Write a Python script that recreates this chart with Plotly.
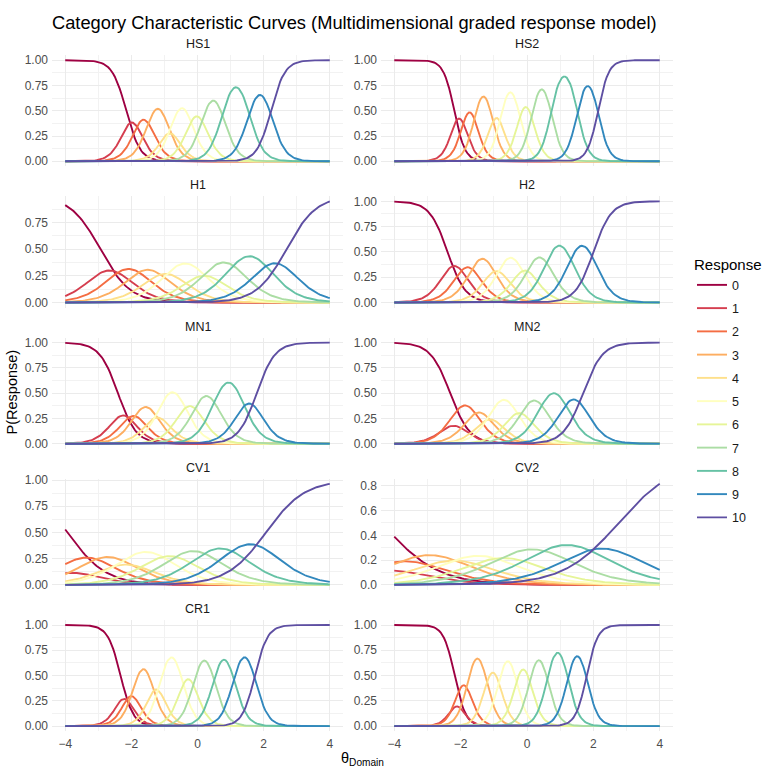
import numpy as np
import plotly.graph_objects as go

# ---------------- data ----------------
items = ["HS1", "HS2", "H1", "H2", "MN1", "MN2", "CV1", "CV2", "CR1", "CR2"]
responses = [str(k) for k in range(11)]
colors = ["#9E0142", "#D53E4F", "#F46D43", "#FDAE61", "#FEE08B", "#FFFFBF",
          "#E6F598", "#ABDDA4", "#66C2A5", "#3288BD", "#5E4FA2"]

# theta where response 0 / response 10 curves cross 0.5
cross_low = [-2.17, -2.20, -2.97, -2.40, -2.42, -2.33, -3.92, -4.37, -2.33, -2.19]
cross_high = [2.24, 2.16, 2.65, 2.01, 1.77, 1.69, 2.00, 2.78, 1.75, 1.81]

# location (theta) of peaks of responses 1..9
peak_theta = {
    "HS1": [-1.98, -1.61, -1.19, -0.85, -0.47, -0.02, 0.46, 1.17, 1.87],
    "HS2": [-2.05, -1.73, -1.29, -0.92, -0.50, -0.05, 0.45, 1.13, 1.81],
    "H1":  [-2.64, -2.08, -1.48, -0.98, -0.37, 0.18, 0.80, 1.57, 2.39],
    "H2":  [-2.18, -1.79, -1.35, -0.91, -0.48, -0.08, 0.37, 0.99, 1.65],
    "MN1": [-2.23, -1.95, -1.55, -1.23, -0.74, -0.24, 0.28, 0.95, 1.57],
    "MN2": [-2.21, -1.86, -1.44, -1.11, -0.68, -0.25, 0.22, 0.80, 1.41],
    "CV1": [-3.85, -3.35, -2.70, -2.10, -1.58, -0.93, -0.09, 0.70, 1.66],
    "CV2": [-4.20, -3.70, -2.87, -2.20, -1.46, -0.80, 0.25, 1.21, 2.21],
    "CR1": [-2.21, -2.01, -1.63, -1.25, -0.77, -0.29, 0.20, 0.80, 1.41],
    "CR2": [-2.11, -1.89, -1.49, -1.04, -0.58, -0.12, 0.35, 0.93, 1.51],
}
# peak heights of responses 1..9
peak_height = {
    "HS1": [0.37, 0.41, 0.53, 0.29, 0.53, 0.45, 0.60, 0.73, 0.65],
    "HS2": [0.41, 0.47, 0.64, 0.44, 0.69, 0.54, 0.71, 0.84, 0.74],
    "H1":  [0.29, 0.31, 0.31, 0.275, 0.37, 0.25, 0.37, 0.43, 0.375],
    "H2":  [0.36, 0.35, 0.43, 0.31, 0.45, 0.32, 0.44, 0.56, 0.56],
    "MN1": [0.275, 0.27, 0.36, 0.255, 0.505, 0.37, 0.47, 0.61, 0.41],
    "MN2": [0.165, 0.37, 0.305, 0.24, 0.44, 0.31, 0.43, 0.50, 0.435],
    "CV1": [0.11, 0.245, 0.255, 0.20, 0.33, 0.27, 0.31, 0.345, 0.40],
    "CV2": [0.115, 0.18, 0.235, 0.20, 0.24, 0.21, 0.28, 0.33, 0.295],
    "CR1": [0.27, 0.295, 0.56, 0.36, 0.685, 0.475, 0.65, 0.655, 0.675],
    "CR2": [0.185, 0.41, 0.68, 0.54, 0.645, 0.56, 0.645, 0.72, 0.685],
}
y_ticks = {
    "HS1": [0, 0.25, 0.5, 0.75, 1.0], "HS2": [0, 0.25, 0.5, 0.75, 1.0],
    "H1": [0, 0.25, 0.5, 0.75], "H2": [0, 0.25, 0.5, 0.75, 1.0],
    "MN1": [0, 0.25, 0.5, 0.75, 1.0], "MN2": [0, 0.25, 0.5, 0.75, 1.0],
    "CV1": [0, 0.25, 0.5, 0.75, 1.0], "CV2": [0, 0.2, 0.4, 0.6, 0.8],
    "CR1": [0, 0.25, 0.5, 0.75, 1.0], "CR2": [0, 0.25, 0.5, 0.75, 1.0],
}
x_ticks = [-4, -2, 0, 2, 4]

# ---------------- graded response model fitted to the read values ----------------
theta = np.linspace(-4, 4, 161)


def grm_params(b_low, b_high, m, h):
    """Least-squares slope/thresholds matching read crossings, peak places and heights."""
    m = np.asarray(m, float)
    at = np.arctanh(np.asarray(h, float))
    rows, rhs = [], []
    for k in range(9):
        r = np.zeros(10); r[k] = 0.5; r[k + 1] = 0.5
        rows.append(r); rhs.append(m[k])
    for k in range(9):
        r = np.zeros(10); r[k] = -1; r[k + 1] = 1
        rows.append(r); rhs.append(None)
    r = np.zeros(10); r[0] = 1; rows.append(r); rhs.append(b_low)
    r = np.zeros(10); r[9] = 1; rows.append(r); rhs.append(b_high)
    A = np.array(rows)
    best = None
    for a in np.arange(0.5, 9.0, 0.01):
        g = 4 * at / a
        y = np.array([v if v is not None else g[i - 9] for i, v in enumerate(rhs)], float)
        b, *_ = np.linalg.lstsq(A, y, rcond=None)
        res = float(np.sum((A @ b - y) ** 2))
        if best is None or res < best[0]:
            best = (res, a, b)
    return best[1], best[2]


def sig(z):
    return 1 / (1 + np.exp(-z))


def curves(a, b):
    star = [np.ones_like(theta)] + [sig(a * (theta - bk)) for bk in b] + [np.zeros_like(theta)]
    return [star[k] - star[k + 1] for k in range(11)]


# ---------------- layout geometry (pixels) ----------------
W, H = 767, 772
col_x = [(52, 343), (381, 673)]
row_top0, row_step, row_h = 50.6, 142.5, 112.2

fig = go.Figure()
annotations = []
layout_axes = {}
font_fam = "Liberation Sans, Arial, sans-serif"

for p, item in enumerate(items):
    r, c = divmod(p, 2)
    a, b = grm_params(cross_low[p], cross_high[p], peak_theta[item], peak_height[item])
    P = curves(a, b)
    ymax = max(float(np.max(pk)) for pk in P)
    ymin = min(float(np.min(pk)) for pk in P)
    span = ymax - ymin
    yr = [ymin - 0.05 * span, ymax + 0.05 * span]

    xs = "x" if p == 0 else f"x{p + 1}"
    ys = "y" if p == 0 else f"y{p + 1}"
    for k in range(11):
        fig.add_trace(go.Scatter(
            x=theta, y=P[k], mode="lines", xaxis=xs, yaxis=ys,
            line=dict(color=colors[k], width=1.9),
            name=responses[k], legendgroup=responses[k], showlegend=(p == 0),
            hoverinfo="skip"))

    x0, x1 = col_x[c]
    top = row_top0 + r * row_step
    bot = top + row_h
    yt = y_ticks[item]
    step = yt[1] - yt[0]
    ext = [yt[0] - step] + yt + [yt[-1] + step]
    yminor = [(ext[i] + ext[i + 1]) / 2 for i in range(len(ext) - 1)]
    yminor = [v for v in yminor if yr[0] <= v <= yr[1]]
    fmt = ".1f" if abs(step - 0.2) < 1e-9 else ".2f"

    layout_axes["xaxis" if p == 0 else f"xaxis{p + 1}"] = dict(
        domain=[x0 / W, x1 / W], anchor=ys, range=[-4.4, 4.4],
        tickvals=x_ticks, showticklabels=(r == 4), ticks="", ticklabelstandoff=4,
        showgrid=True, gridcolor="#EBEBEB", gridwidth=1.1,
        zeroline=False, showline=False,
        tickfont=dict(size=12, color="#4D4D4D", family=font_fam),
        minor=dict(tickvals=[-3, -1, 1, 3], showgrid=True, gridcolor="#F2F2F2", gridwidth=0.8),
    )
    layout_axes["yaxis" if p == 0 else f"yaxis{p + 1}"] = dict(
        domain=[1 - bot / H, 1 - top / H], anchor=xs, range=yr,
        tickvals=yt, tickformat=fmt, ticks="", ticklabelstandoff=3,
        showgrid=True, gridcolor="#EBEBEB", gridwidth=1.1,
        zeroline=False, showline=False,
        tickfont=dict(size=12, color="#4D4D4D", family=font_fam),
        minor=dict(tickvals=yminor, showgrid=True, gridcolor="#F2F2F2", gridwidth=0.8),
    )
    annotations.append(dict(
        text=item, x=(x0 + x1) / 2 / W, y=1 - (top - 11) / H, xref="paper", yref="paper",
        showarrow=False, xanchor="center", yanchor="middle",
        font=dict(size=12.5, color="#1A1A1A", family=font_fam)))

annotations.append(dict(
    text="Category Characteristic Curves (Multidimensional graded response model)",
    x=50 / W, y=1 - 18 / H, xref="paper", yref="paper", showarrow=False,
    xanchor="left", yanchor="middle", font=dict(size=18.3, color="#000000", family=font_fam)))
annotations.append(dict(
    text="P(Response)", x=12 / W, y=1 - 391 / H, xref="paper", yref="paper",
    showarrow=False, textangle=-90, xanchor="center", yanchor="middle",
    font=dict(size=14.5, color="#000000", family=font_fam)))
annotations.append(dict(
    text="θ<sub>Domain</sub>", x=362 / W, y=1 - 761 / H, xref="paper", yref="paper",
    showarrow=False, xanchor="center", yanchor="middle",
    font=dict(size=14.5, color="#000000", family=font_fam)))

fig.update_layout(
    width=W, height=H, margin=dict(l=0, r=0, t=0, b=0),
    paper_bgcolor="white", plot_bgcolor="white",
    annotations=annotations,
    showlegend=True,
    legend=dict(
        x=692 / W, y=1 - 248 / H, xanchor="left", yanchor="top",
        title=dict(text="Response", font=dict(size=15, color="#000000", family=font_fam)),
        font=dict(size=12.5, color="#1A1A1A", family=font_fam),
        tracegroupgap=4, bgcolor="rgba(0,0,0,0)"),
    **layout_axes,
)

fig.write_html("out.html")
